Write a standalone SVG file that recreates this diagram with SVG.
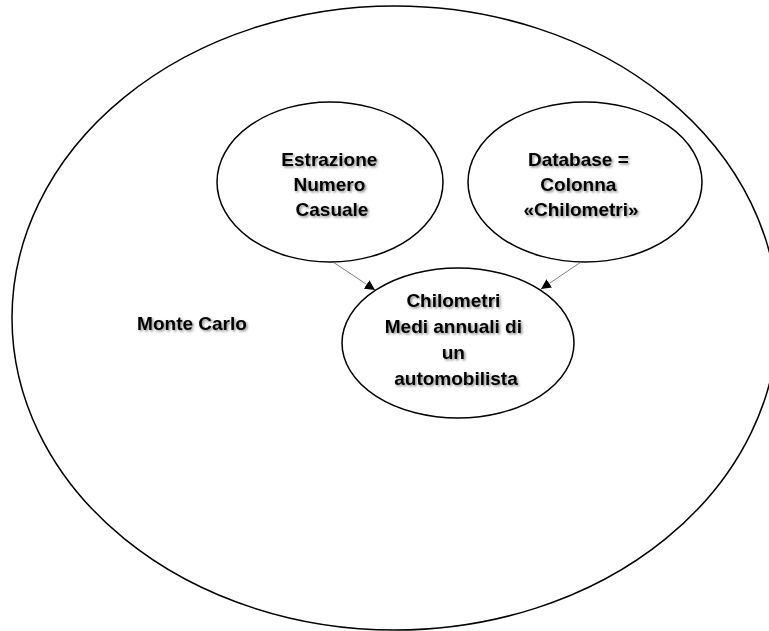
<svg xmlns="http://www.w3.org/2000/svg" width="769" height="631" viewBox="0 0 769 631">
  <style>
    .shape { fill: none; stroke: #000; stroke-width: 1.5; }
    .label { font-family: "Liberation Sans", Arial, sans-serif; font-weight: bold; font-size: 19px; fill: #000; text-anchor: middle; }
    .link { stroke: #555; stroke-width: 0.75; fill: none; }
  </style>
  <defs>
    <filter id="shadow" x="-20%" y="-20%" width="140%" height="160%">
      <feDropShadow dx="1.5" dy="1.5" stdDeviation="1.2" flood-color="#000" flood-opacity="0.45"/>
    </filter>
    <marker id="arrow" viewBox="0 0 10 10" refX="10" refY="5" markerWidth="10" markerHeight="10" markerUnits="userSpaceOnUse" orient="auto">
      <path d="M0,0 L10,5 L0,10 z" fill="#000"/>
    </marker>
  </defs>
  <rect width="769" height="631" fill="#fff"/>

  <g id="monte-carlo">
    <ellipse class="shape" cx="395" cy="318" rx="383" ry="312"/>
    <text class="label" filter="url(#shadow)" x="192" y="330">Monte Carlo</text>
  </g>

  <g id="estrazione">
    <ellipse class="shape" cx="330" cy="182" rx="113" ry="80"/>
    <text class="label" filter="url(#shadow)" x="332" y="166">
      <tspan x="332">Estrazione</tspan>
      <tspan x="332" dy="25">Numero</tspan>
      <tspan x="332" dy="25">Casuale</tspan>
    </text>
  </g>

  <g id="database">
    <ellipse class="shape" cx="585" cy="182" rx="117" ry="80"/>
    <text class="label" filter="url(#shadow)" x="581" y="166">
      <tspan x="581">Database =</tspan>
      <tspan x="581" dy="25">Colonna</tspan>
      <tspan x="581" dy="25">«Chilometri»</tspan>
    </text>
  </g>

  <g id="chilometri">
    <ellipse class="shape" cx="458" cy="343" rx="116" ry="75"/>
    <text class="label" filter="url(#shadow)" x="456" y="307">
      <tspan x="456">Chilometri</tspan>
      <tspan x="456" dy="26">Medi annuali di</tspan>
      <tspan x="456" dy="26">un</tspan>
      <tspan x="456" dy="26">automobilista</tspan>
    </text>
  </g>

  <g id="connectors">
    <line class="link" x1="333" y1="262" x2="375" y2="290" marker-end="url(#arrow)"/>
    <line class="link" x1="581" y1="262" x2="541" y2="289" marker-end="url(#arrow)"/>
  </g>
</svg>
